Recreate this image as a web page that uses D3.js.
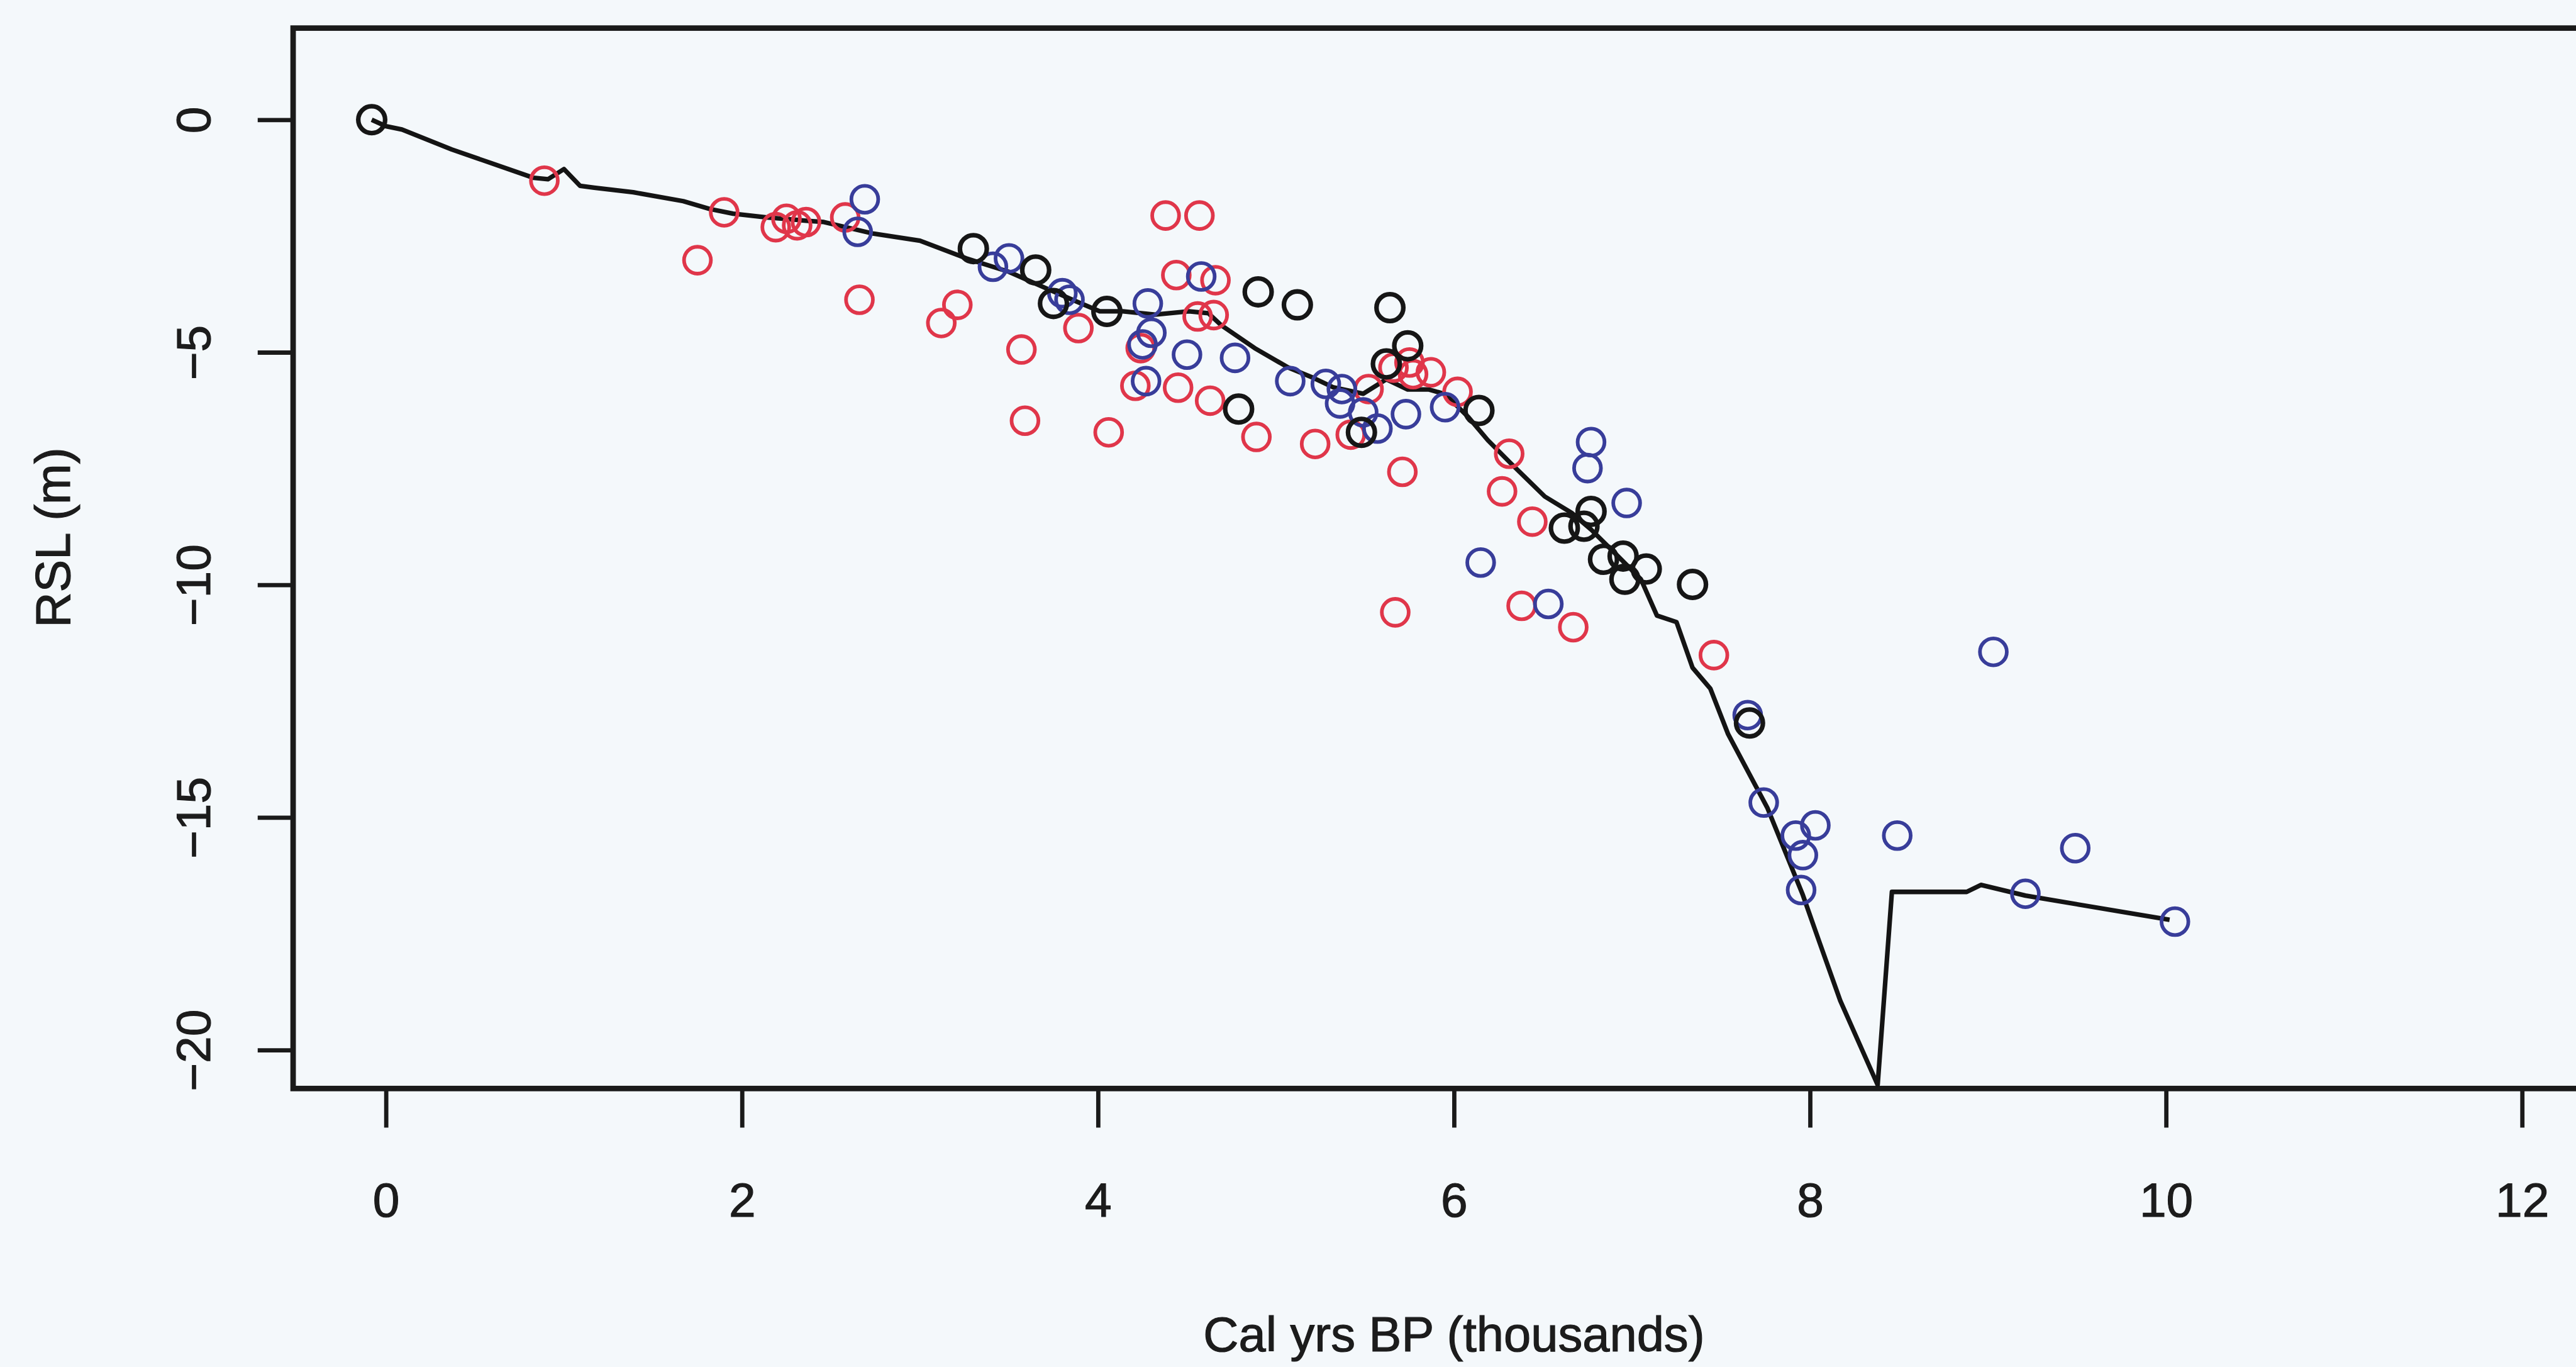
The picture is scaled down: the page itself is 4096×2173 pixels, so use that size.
<!DOCTYPE html>
<html>
<head>
<meta charset="utf-8">
<script src="https://cdn.jsdelivr.net/npm/d3@7"></script>
<style>
  html, body { margin: 0; padding: 0; background: #f4f8fb; overflow: hidden; }
  svg { display: block; }
  text { font-family: "Liberation Sans", Arial, Helvetica, sans-serif; fill: #1c1c1c; }
</style>
</head>
<body>
<div id="chart"></div>
<script>
// -- DATA -- //
// black circles: (age in thousand cal yrs BP, RSL in m)
const blackX = [-0.08, 3.30, 3.65, 3.75, 4.05, 4.90, 5.12, 4.79, 5.64, 5.74, 5.62, 5.48, 6.14, 6.77, 6.62, 6.73, 6.84, 6.95, 6.96, 7.08, 7.34, 7.66];
const blackY = [0, -2.77, -3.23, -3.95, -4.12, -3.70, -3.98, -6.22, -4.04, -4.86, -5.25, -6.72, -6.25, -8.42, -8.78, -8.74, -9.45, -9.38, -9.88, -9.66, -9.99, -12.97];

// red circles
const redX = [0.89, 1.90, 1.75, 2.19, 2.25, 2.31, 2.36, 2.58, 2.66, 3.21, 3.12, 3.57, 3.59, 3.89, 4.06, 4.24, 4.21, 4.38, 4.57, 4.44, 4.66, 4.56, 4.65, 4.45, 4.63, 4.89, 5.22, 5.42, 5.52, 5.66, 5.75, 5.77, 5.87, 6.02, 6.31, 5.71, 6.27, 6.44, 5.67, 6.38, 6.67, 7.46];
const redY = [-1.31, -1.99, -3.02, -2.31, -2.13, -2.27, -2.20, -2.10, -3.87, -3.98, -4.37, -4.94, -6.47, -4.48, -6.72, -4.91, -5.72, -2.06, -2.06, -3.34, -3.45, -4.23, -4.20, -5.76, -6.04, -6.82, -6.97, -6.77, -5.79, -5.33, -5.22, -5.47, -5.43, -5.85, -7.18, -7.57, -7.99, -8.64, -10.59, -10.45, -10.91, -11.51];

// blue circles
const blueX = [2.69, 2.65, 3.41, 3.50, 3.80, 3.84, 4.28, 4.30, 4.25, 4.27, 4.58, 4.50, 4.77, 5.08, 5.28, 5.37, 5.36, 5.49, 5.57, 5.73, 5.95, 6.77, 6.75, 6.97, 6.15, 6.53, 7.65, 7.74, 8.03, 7.92, 7.96, 7.95, 8.49, 9.03, 9.49, 9.21, 10.05];
const blueY = [-1.71, -2.41, -3.16, -2.98, -3.73, -3.87, -3.95, -4.58, -4.83, -5.62, -3.37, -5.05, -5.12, -5.62, -5.68, -5.79, -6.10, -6.29, -6.64, -6.33, -6.18, -6.93, -7.49, -8.24, -9.52, -10.41, -12.80, -14.68, -15.17, -15.39, -15.81, -16.56, -15.39, -11.44, -15.66, -16.64, -17.24];

// fitted curve
const lineX = [-0.08, 0.00, 0.09, 0.37, 0.83, 0.91, 1.00, 1.09, 1.17, 1.39, 1.67, 1.82, 1.95, 2.14, 2.36, 2.46, 2.74, 3.00, 3.26, 3.50, 3.67, 3.88, 4.01, 4.14, 4.32, 4.51, 4.62, 4.69, 4.88, 5.07, 5.21, 5.32, 5.49, 5.62, 5.74, 5.86, 5.95, 6.08, 6.19, 6.32, 6.51, 6.66, 6.77, 6.92, 7.05, 7.14, 7.25, 7.34, 7.44, 7.54, 7.76, 7.96, 8.05, 8.17, 8.38, 8.46, 8.88, 8.96, 9.21, 10.02];
const lineY = [0, -0.14, -0.21, -0.64, -1.25, -1.28, -1.06, -1.42, -1.46, -1.56, -1.75, -1.92, -2.02, -2.10, -2.17, -2.20, -2.45, -2.60, -2.98, -3.27, -3.56, -3.91, -4.12, -4.12, -4.19, -4.12, -4.16, -4.41, -4.91, -5.33, -5.55, -5.75, -5.89, -5.58, -5.80, -5.80, -5.90, -6.39, -6.89, -7.39, -8.10, -8.45, -8.81, -9.38, -9.88, -10.66, -10.80, -11.78, -12.23, -13.21, -14.79, -16.67, -17.65, -18.94, -20.75, -16.60, -16.60, -16.45, -16.68, -17.20];

const xTicks = [0, 2, 4, 6, 8, 10, 12];
const yTicks = [0, -5, -10, -15, -20];

const xTitle = "Cal yrs BP (thousands)";
const yTitle = "RSL (m)";

// -- LAYOUT (reference pixels, scaled down as a whole) -- //
const S = 0.971;
const box = { left: 480, top: 46, right: 4260, bottom: 1782 };
const ink = "#1a1a1a";

const svg = d3.select("#chart")
    .append("svg")
    .attr("width", 4096)
    .attr("height", 2173);

svg.append("rect")
    .attr("width", 4096)
    .attr("height", 2173)
    .attr("fill", "#f4f8fb");

const g = svg.append("g").attr("transform", "scale(" + S + ")");

const x = d3.scaleLinear().domain([0, 12]).range([632, 4130]);
const y = d3.scaleLinear().domain([0, -20]).range([196, 1719]);

// x axis
const xAxis = g.append("g")
    .attr("transform", "translate(0," + box.bottom + ")")
    .call(d3.axisBottom(x).tickValues(xTicks).tickSize(64).tickFormat(d3.format("d")));
xAxis.select(".domain").remove();
xAxis.selectAll("line").attr("stroke", ink).attr("stroke-width", 7);
xAxis.selectAll("text")
    .attr("y", 210)
    .attr("dy", 0)
    .attr("font-size", 79)
    .attr("fill", ink)
    .attr("stroke", ink)
    .attr("stroke-width", 1.2);

// y axis
const yAxis = g.append("g")
    .attr("transform", "translate(" + box.left + ",0)")
    .call(d3.axisLeft(y).tickValues(yTicks).tickSize(58).tickFormat(d => d === 0 ? "0" : "\u2212" + Math.abs(d)));
yAxis.select(".domain").remove();
yAxis.selectAll("line").attr("stroke", ink).attr("stroke-width", 7);
yAxis.selectAll("text")
    .attr("x", 0)
    .attr("y", 0)
    .attr("dy", 0)
    .attr("text-anchor", "middle")
    .attr("transform", "translate(-136,0) rotate(-90)")
    .attr("font-size", 79)
    .attr("fill", ink)
    .attr("stroke", ink)
    .attr("stroke-width", 1.2);

// titles
g.append("text")
    .attr("x", 2381)
    .attr("y", 2212)
    .attr("text-anchor", "middle")
    .attr("font-size", 80)
    .attr("stroke", ink)
    .attr("stroke-width", 1.2)
    .text(xTitle);

g.append("text")
    .attr("transform", "translate(114,880) rotate(-90)")
    .attr("text-anchor", "middle")
    .attr("font-size", 80)
    .attr("stroke", ink)
    .attr("stroke-width", 1.2)
    .text(yTitle);

// plot box
g.append("rect")
    .attr("x", box.left)
    .attr("y", box.top)
    .attr("width", box.right - box.left)
    .attr("height", box.bottom - box.top)
    .attr("fill", "none")
    .attr("stroke", ink)
    .attr("stroke-width", 9);

// curve
const curve = d3.line()
    .x(d => x(d[0]))
    .y(d => y(d[1]));

g.append("path")
    .datum(d3.zip(lineX, lineY))
    .attr("d", curve)
    .attr("fill", "none")
    .attr("stroke", "#141414")
    .attr("stroke-width", 7.5)
    .attr("stroke-linejoin", "round");

// points
let drawPoints = (xs, ys, color, width) => {
    g.append("g")
        .selectAll("circle")
        .data(d3.zip(xs, ys))
        .enter()
        .append("circle")
        .attr("cx", d => x(d[0]))
        .attr("cy", d => y(d[1]))
        .attr("r", 22)
        .attr("fill", "none")
        .attr("stroke", color)
        .attr("stroke-width", width);
}

drawPoints(redX, redY, "#e0364a", 6);
drawPoints(blueX, blueY, "#383d9a", 6);
drawPoints(blackX, blackY, "#161616", 7.5);
</script>
</body>
</html>
